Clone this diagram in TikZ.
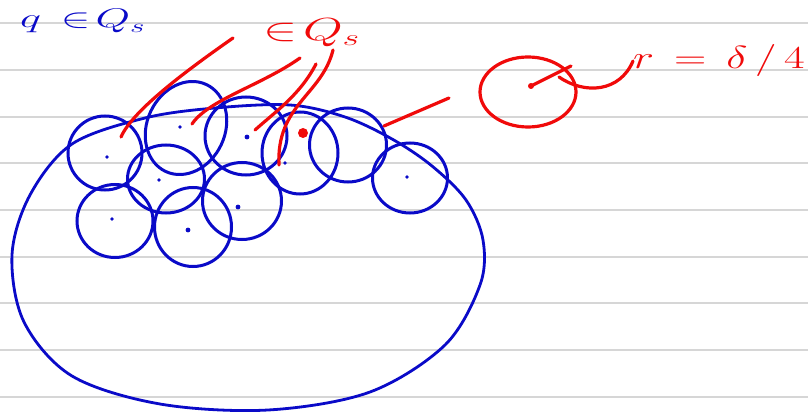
\RequirePackage{fix-cm}
\documentclass[tikz,border=0pt]{standalone}
\usetikzlibrary{shapes.geometric}
\definecolor{pen}{RGB}{10,10,200}
\definecolor{redpen}{RGB}{240,10,10}
\definecolor{rulegray}{RGB}{214,214,214}
\begin{document}
\begin{tikzpicture}[x=1pt,y=-1pt,
  rule/.style={draw=rulegray,line width=2pt},
  ball/.style={draw=pen,line width=3pt,ellipse,inner sep=0pt},
  cdot/.style={fill=pen,circle,inner sep=0pt,minimum size=3.8pt},
  ptr/.style={draw=redpen,line width=3.2pt,line cap=round},
  bluetxt/.style={text=pen,font=\fontsize{27}{31}\selectfont,inner sep=0pt},
  redtxt/.style={text=redpen,font=\fontsize{32}{36}\selectfont,inner sep=0pt}]
\useasboundingbox (0,0) rectangle (808,414);
\fill[white] (0,0) rectangle (808,414);
% ruled lines
\foreach \yy in {23.5,70,117,163.5,210,256.5,303,350,396.5}
  \draw[rule] (0,\yy) -- (808,\yy);
% big region
\draw[pen,line width=2.8pt] plot[smooth cycle,tension=0.55] coordinates
 {(72,144) (30,195) (12,255) (24,322) (72,376) (160,404) (268,410) (370,392)
  (445,345) (480,285) (483,240) (466,200) (432,166) (392,139) (345,117)
  (290,105) (215,108) (145,118)};
% small balls
\node[ball,minimum width=74pt,minimum height=74pt] (c1) at (105,153) {};
\node[ball,minimum width=78pt,minimum height=96pt,rotate=-25] (c2) at (186,128) {};
\node[ball,minimum width=82pt,minimum height=78pt] (c3) at (246,136) {};
\node[ball,minimum width=76pt,minimum height=82pt] (c4) at (300,153) {};
\node[ball,minimum width=77pt,minimum height=74pt] (c5) at (348,145) {};
\node[ball,minimum width=75pt,minimum height=70pt] (c6) at (410,178) {};
\node[ball,minimum width=77pt,minimum height=68pt] (c7) at (166,179) {};
\node[ball,minimum width=79pt,minimum height=77pt] (c8) at (242,201) {};
\node[ball,minimum width=76pt,minimum height=73pt] (c9) at (115,221) {};
\node[ball,minimum width=77pt,minimum height=79pt] (c10) at (193,227) {};
% centres
\node[cdot] (d1) at (107,157) {};
\node[cdot] (d2) at (180,127) {};
\node[cdot,minimum size=4.8pt] (d3) at (247,137) {};
\node[cdot] (d4) at (285,163) {};
\node[cdot] (d6) at (407,177) {};
\node[cdot] (d7) at (159,180) {};
\node[cdot,minimum size=4.8pt] (d8) at (238,207) {};
\node[cdot] (d9) at (112,219) {};
\node[cdot,minimum size=4.8pt] (d10) at (188,230) {};
\node[fill=redpen,circle,inner sep=0pt,minimum size=10pt] (rd) at (303,133) {};
% labels
\node[bluetxt,anchor=base west] (q) at (20,28) {\scalebox{1.65}[1]{$q\,\in\! Q_s$}};
\node[redtxt,anchor=base west] (lab) at (263,41) {\scalebox{1.6}[1]{$\in\! Q_s$}};
% pointers
\coordinate (p1s) at (233,38);  \coordinate (p1e) at (121,137);
\coordinate (p2s) at (300,58);  \coordinate (p2e) at (192,124);
\coordinate (p3s) at (316,64);  \coordinate (p3e) at (255,130);
\coordinate (p4s) at (333,50);  \coordinate (p4e) at (279,165);
\coordinate (p5s) at (449,98);  \coordinate (p5e) at (384,126);
\draw[ptr] (p1s) .. controls (180,75) and (132,112) .. (p1e);
\draw[ptr] (p2s) .. controls (262,85) and (208,100) .. (p2e);
\draw[ptr] (p3s) .. controls (300,95) and (275,112) .. (p3e);
\draw[ptr] (p4s) .. controls (322,95) and (276,105) .. (p4e);
\draw[ptr] (p5s) -- (p5e);
% radius sketch
\node[draw=redpen,line width=3.2pt,ellipse,minimum width=96pt,minimum height=70pt,inner sep=0pt] (rc) at (528,92) {};
\coordinate (rctr) at (531,86);
\coordinate (redge) at (571,66);
\draw[ptr] (rctr) -- (redge);
\fill[redpen] (rctr) circle (3pt);
\node[redtxt,anchor=base west] (rlab) at (633,69) {\scalebox{1.4}[1]{$r\,=\,\delta\,/\,4$}};
\draw[ptr] (559,77) .. controls (585,95) and (620,92) .. (rlab.west);
\end{tikzpicture}
\end{document}
